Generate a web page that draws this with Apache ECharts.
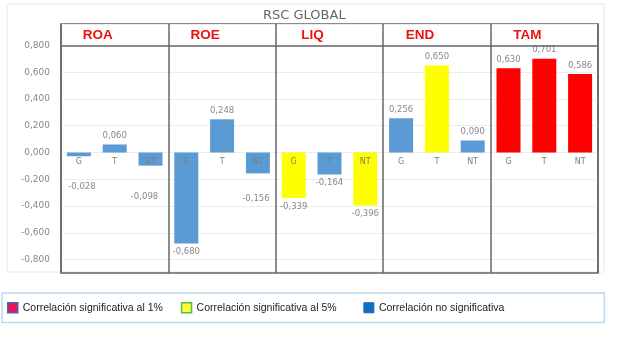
<!DOCTYPE html>
<html>
<head>
<meta charset="utf-8">
<script src="https://cdn.jsdelivr.net/npm/echarts@6/dist/echarts.min.js"></script>
<style>html,body{margin:0;padding:0;background:#fff}#c{width:624px;height:340px}</style>
</head>
<body>
<div id="c"></div>
<script>
const title = 'RSC GLOBAL';
const groups = ['ROA', 'ROE', 'LIQ', 'END', 'TAM'];
const categories = ['G', 'T', 'NT', 'G', 'T', 'NT', 'G', 'T', 'NT', 'G', 'T', 'NT', 'G', 'T', 'NT'];
const values = [-0.028, 0.060, -0.098, -0.680, 0.248, -0.156, -0.339, -0.164, -0.396, 0.256, 0.650, 0.090, 0.630, 0.701, 0.586];
const significance = ['ns', 'ns', 'ns', 'ns', 'ns', 'ns', '5', 'ns', '5', 'ns', '5', 'ns', '1', '1', '1'];
const levels = ['1', '5', 'ns'];
const levelNames = ['Correlación significativa al 1%', 'Correlación significativa al 5%', 'Correlación no significativa'];

const barColors = { '1': '#ff0000', '5': '#ffff00', 'ns': '#5b9bd5' };
const legendStyle = {
  '1': { color: '#e8175d', borderColor: '#4466aa', borderWidth: 1.5 },
  '5': { color: '#ffff33', borderColor: '#55bb55', borderWidth: 1.5 },
  'ns': { color: '#0a70c4', borderColor: '#2a5da8', borderWidth: 1 }
};
// manual label nudges (as in the original, to avoid the category text)
const labelNudge = { 0: [3, 22], 2: [-6, 23], 5: [-2, 17] };

const fmt = v => { if (Math.abs(v) < 1e-9) v = 0; return v.toFixed(3).replace('.', ','); };

const series = levels.map((lvl, k) => ({
  name: levelNames[k],
  type: 'bar',
  barWidth: 24,
  barGap: '-100%',
  itemStyle: { color: barColors[lvl] },
  label: {
    show: true, fontSize: 8.5, color: '#888', fontFamily: 'DejaVu Sans',
    distance: 4,
    formatter: p => fmt(p.value)
  },
  data: values.map((v, i) => {
    if (significance[i] !== lvl) return '-';
    const item = { value: v, label: { position: v >= 0 ? 'top' : 'bottom' } };
    if (labelNudge[i]) item.label.offset = labelNudge[i];
    return item;
  }),
  markLine: k === 0 ? {
    silent: true, symbol: 'none', label: { show: false },
    lineStyle: { color: '#666', width: 1.5, type: 'solid' },
    data: [{ yAxis: 0.8 }]
  } : undefined
}));

// category names written just below the zero line, over the bars (as in the original)
series.push({
  name: 'categoryNames',
  type: 'bar',
  barWidth: 24,
  barGap: '-100%',
  z: 10,
  silent: true,
  itemStyle: { color: 'rgba(0,0,0,0)' },
  label: {
    show: true, fontSize: 8, color: '#7d7d7d', fontFamily: 'DejaVu Sans', distance: 5,
    formatter: p => categories[p.dataIndex]
  },
  data: values.map(v => ({ value: v, label: { position: v >= 0 ? 'bottom' : 'insideTop' } }))
});

const chart = echarts.init(document.getElementById('c'), null, { renderer: 'canvas' });
chart.setOption({
  animation: false,
  backgroundColor: '#fff',
  title: {
    text: title, left: 258, top: 4,
    textStyle: { fontSize: 13, fontWeight: 'normal', color: '#666', fontFamily: 'DejaVu Sans' }
  },
  graphic: [{
    type: 'rect', z: -10, silent: true,
    shape: { x: 7, y: 4, width: 597, height: 268 },
    style: { fill: 'none', stroke: '#e8e8e8', lineWidth: 1 }
  }],
  grid: {
    left: 61, right: 26, top: 24, bottom: 67,
    show: true, borderColor: '#666', borderWidth: 1.5, backgroundColor: 'transparent'
  },
  legend: {
    left: 2, top: 293, orient: 'horizontal',
    padding: [9, 100, 9, 5],
    itemWidth: 10, itemHeight: 10, itemGap: 18, icon: 'rect',
    selectedMode: false,
    borderColor: '#bcd9ea', borderWidth: 1.5,
    textStyle: { fontSize: 10.5, color: '#222', fontFamily: 'Liberation Sans' },
    formatter: name => name === levelNames[1] ? name + '   ' : name,
    data: levels.map((lvl, k) => ({ name: levelNames[k], itemStyle: legendStyle[lvl] }))
  },
  xAxis: [{
    type: 'category', data: categories, position: 'bottom',
    axisLine: { show: false }, axisTick: { show: false },
    axisLabel: { show: false },
    splitLine: {
      show: true, interval: (i) => i % 3 === 0,
      lineStyle: { color: '#666', width: 1.5 }
    }
  }, {
    type: 'category', data: groups, position: 'top',
    axisLine: { show: false }, axisTick: { show: false }, splitLine: { show: false },
    axisLabel: {
      inside: true, interval: 0, margin: 4, color: '#ee1111',
      fontSize: 13.5, fontWeight: 'bold', fontFamily: 'Liberation Sans',
      padding: [0, 34, 0, 0]
    }
  }],
  yAxis: {
    type: 'value', min: -0.9, max: 0.96, interval: 0.1,
    axisLine: { show: false }, axisTick: { show: false },
    axisLabel: {
      margin: 11, fontSize: 9, color: '#888', fontFamily: 'DejaVu Sans',
      formatter: v => {
        const r = Math.round(v * 10);
        if (Math.abs(v * 10 - r) > 1e-6 || r % 2 !== 0 || Math.abs(r) > 8) return '';
        return fmt(v);
      }
    },
    splitLine: { show: true, lineStyle: { color: ['rgba(0,0,0,0)', '#ececec'], width: 1 } }
  },
  series: series
});
</script>
</body>
</html>
